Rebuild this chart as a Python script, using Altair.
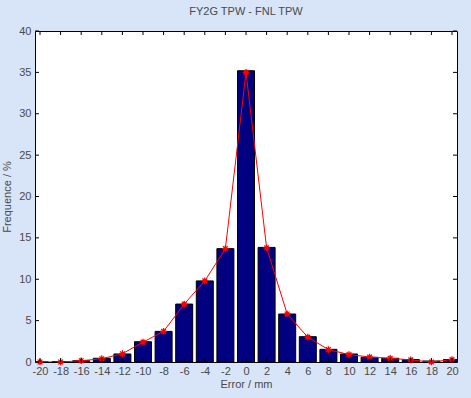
import altair as alt
import pandas as pd

# Data
centers = [-20, -18, -16, -14, -12, -10, -8, -6, -4, -2, 0, 2, 4, 6, 8, 10, 12, 14, 16, 18, 20]
bar_vals = [0.0, 0.05, 0.15, 0.45, 0.97, 2.45, 3.7, 7.0, 9.8, 13.7, 35.2, 13.85, 5.8, 3.06, 1.53, 0.97, 0.57, 0.45, 0.3, 0.12, 0.3]
line_vals = [0.0, 0.0, 0.15, 0.4, 1.0, 2.4, 3.7, 7.0, 9.8, 13.7, 35.0, 13.8, 5.8, 3.0, 1.5, 0.9, 0.6, 0.45, 0.25, 0.0, 0.3]
x_ticks = list(range(-20, 21, 2))
y_ticks = [0, 5, 10, 15, 20, 25, 30, 35, 40]

W, H = 422, 331
BG = "#D8E4F8"
FONT = "Liberation Sans"
GREY = "#4a4a4a"

df = pd.DataFrame({"x": centers, "bar": bar_vals, "line": line_vals})
xt = pd.DataFrame({"t": x_ticks})
yt = pd.DataFrame({"t": y_ticks})

xscale = alt.Scale(domain=[-20, 20], nice=False, zero=False)
yscale = alt.Scale(domain=[0, 40], nice=False)

xaxis = alt.Axis(values=x_ticks, title="Error / mm", grid=False, ticks=False,
                 domain=False, labelPadding=3, labelFontSize=11, titleFontSize=11,
                 labelFont=FONT, titleFont=FONT, labelColor=GREY, titleColor=GREY,
                 titleFontWeight="normal", titlePadding=2, labelFlush=False,
                 labelOverlap=False, labelExpr="toString(datum.value)")
yaxis = alt.Axis(values=y_ticks, title="Frequence / %", grid=False, ticks=False,
                 domain=False, labelPadding=4, labelFontSize=11, titleFontSize=11,
                 labelFont=FONT, titleFont=FONT, labelColor=GREY, titleColor=GREY,
                 titleFontWeight="normal", titleX=-23, titleY=H / 2, titleAlign="center",
                 labelOverlap=False)

X = lambda f: alt.X(f, scale=xscale, axis=xaxis)
Y = lambda f: alt.Y(f, scale=yscale, axis=yaxis)

bars = alt.Chart(df).mark_bar(color="#000080", stroke="black", strokeWidth=1,
                              size=17, clip=True).encode(x=X("x:Q"), y=Y("bar:Q"))

line = alt.Chart(df).mark_line(color="red", strokeWidth=1, clip=True).encode(
    x=X("x:Q"), y=Y("line:Q"))

star = "M-1,0L1,0M0,-1L0,1M-0.7,-0.7L0.7,0.7M-0.7,0.7L0.7,-0.7"
pts = alt.Chart(df).mark_point(shape=star, color="red", filled=False, size=45,
                               strokeWidth=1.3, opacity=1).encode(
    x=X("x:Q"), y=Y("line:Q"))

# inward ticks (Matlab style)
top_ticks = alt.Chart(xt).mark_rule(color="black", strokeWidth=1).encode(
    x=X("t:Q"), y=alt.value(0), y2=alt.value(4))
bot_ticks = alt.Chart(xt).mark_rule(color="black", strokeWidth=1).encode(
    x=X("t:Q"), y=alt.value(H), y2=alt.value(H - 4))
left_ticks = alt.Chart(yt).mark_rule(color="black", strokeWidth=1).encode(
    y=Y("t:Q"), x=alt.value(0), x2=alt.value(4))
right_ticks = alt.Chart(yt).mark_rule(color="black", strokeWidth=1).encode(
    y=Y("t:Q"), x=alt.value(W), x2=alt.value(W - 4))

chart = alt.layer(bars, line, pts, top_ticks, bot_ticks, left_ticks, right_ticks).properties(
    width=W, height=H,
    title=alt.TitleParams("FY2G TPW - FNL TPW", font=FONT, fontSize=11,
                          fontWeight="normal", color=GREY, offset=8, anchor="middle"),
    autosize=alt.AutoSizeParams(type="none"),
    padding={"left": 35, "top": 31, "right": 14, "bottom": 36},
    background=BG,
).configure_view(fill="white", stroke="black", strokeWidth=1
).configure_axis(labelOverlap=False)

chart.save("out.html", embed_options={"renderer": "svg", "actions": False})
